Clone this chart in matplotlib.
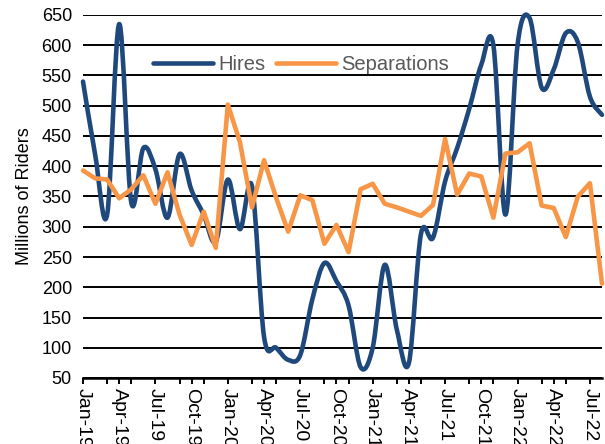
import numpy as np
import matplotlib
matplotlib.use("Agg")
import matplotlib.pyplot as plt
from matplotlib.path import Path
from matplotlib.patches import PathPatch
from matplotlib.lines import Line2D

plt.rcParams["font.family"] = ["Liberation Sans", "DejaVu Sans"]

# ── data: monthly, Jan-19 .. Aug-22 ─────────────────────────────────────────
hires = [540, 420, 320, 635, 340, 430, 395, 315, 420, 360,
         320, 275, 378, 296, 367, 118, 100, 80, 88, 180,
         240, 210, 170, 68, 100, 237, 130, 75, 288, 282,
         375, 430, 495, 568, 600, 320, 600, 645, 530, 560,
         620, 605, 515, 485]
separations = [393, 380, 378, 347, 362, 385, 338, 390, 320, 270,
               325, 265, 502, 440, 332, 410, 348, 292, 352, 344,
               272, 303, 258, 362, 371, 338, 332, 325, 318, 336,
               445, 353, 388, 383, 315, 421, 423, 438, 335, 331,
               283, 350, 372, 206]
tick_labels = ["Jan-19", "Apr-19", "Jul-19", "Oct-19", "Jan-20", "Apr-20",
               "Jul-20", "Oct-20", "Jan-21", "Apr-21", "Jul-21", "Oct-21",
               "Jan-22", "Apr-22", "Jul-22"]

BLUE = "#1F497D"
ORANGE = "#F79646"


def smooth_path(x, y):
    # Catmull-Rom style bezier, like a spreadsheet "smoothed line"
    pts = np.column_stack([x, y]).astype(float)
    n = len(pts)
    verts = [pts[0]]
    codes = [Path.MOVETO]
    for i in range(n - 1):
        p0 = pts[i - 1] if i > 0 else pts[i]
        p1 = pts[i]
        p2 = pts[i + 1]
        p3 = pts[i + 2] if i + 2 < n else pts[i + 1]
        verts += [p1 + (p2 - p0) / 6, p2 - (p3 - p1) / 6, p2]
        codes += [Path.CURVE4] * 3
    return Path(verts, codes)


x = np.arange(len(hires))

fig = plt.figure(figsize=(6.05, 4.44), dpi=100)
ax = fig.add_axes([83 / 605, 1 - 378 / 444, (602 - 83) / 605, (378 - 15) / 444])

ax.add_patch(PathPatch(smooth_path(x, hires), facecolor="none", edgecolor=BLUE,
                       lw=3.3, capstyle="round", joinstyle="round", zorder=3,
                       clip_on=False))
ax.plot(x, separations, color=ORANGE, lw=3.3, solid_joinstyle="round",
        solid_capstyle="round", zorder=3, clip_on=False)

ax.set_xlim(0, 43)
ax.set_ylim(50, 650)
ax.set_yticks(np.arange(50, 651, 50))
ax.yaxis.grid(True, color="black", lw=1.4)
ax.set_axisbelow(True)

ax.set_xticks(np.arange(0, 43, 3))
ax.set_xticklabels(tick_labels, rotation=270, fontsize=14)
ax.set_xticks(np.arange(0, 44, 2), minor=True)
ax.tick_params(axis="x", which="both", direction="out", length=4, width=1.4,
               color="black", pad=3)
ax.tick_params(axis="y", length=0, labelsize=13, pad=8)

for s in ["top", "right", "left"]:
    ax.spines[s].set_visible(False)
ax.spines["bottom"].set_linewidth(1.8)

ax.set_ylabel("Millions of Riders", fontsize=13, labelpad=6)

handles = [Line2D([], [], color=BLUE, lw=3.3, solid_capstyle="round"),
           Line2D([], [], color=ORANGE, lw=3.3, solid_capstyle="round")]
ax.legend(handles, ["Hires", "Separations"], loc="upper center",
          bbox_to_anchor=(0.42, 0.94), ncol=2, frameon=False, fontsize=14.5,
          labelcolor="#595959", handlelength=3.0, handletextpad=0.25,
          columnspacing=0.5)

fig.savefig("out.png", dpi=100)
